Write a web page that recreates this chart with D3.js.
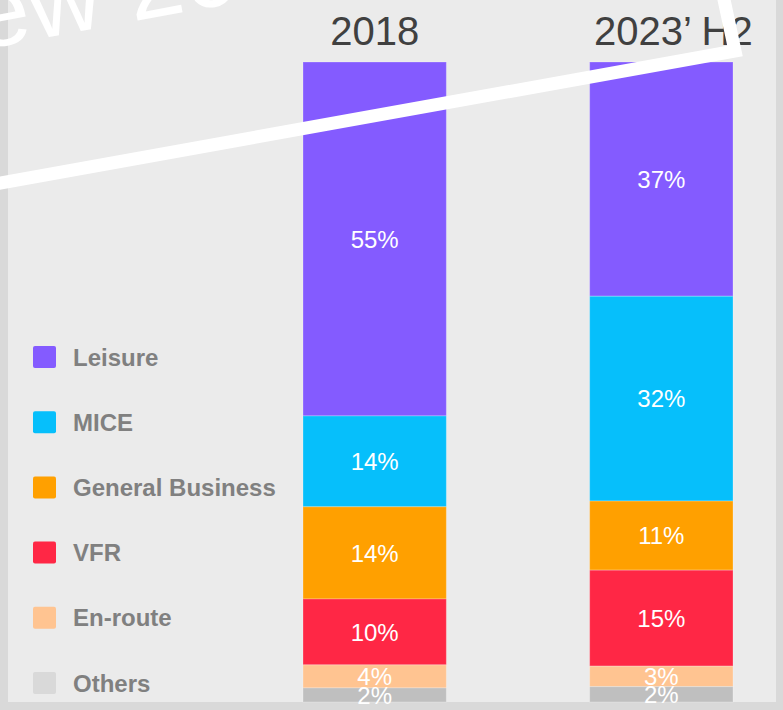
<!DOCTYPE html>
<html>
<head>
<meta charset="utf-8">
<script src="https://cdn.jsdelivr.net/npm/d3@7"></script>
<style>
  body { margin: 0; background: #d9d9d9; }
  svg { display: block; font-family: 'Liberation Sans', Arial, sans-serif; }
</style>
</head>
<body>
<div id="chart"></div>
<script>
// trip purpose share, percent of each period
var periods = ['2018', '2023\u2019 H2']
var segments = ['Leisure', 'MICE', 'General Business', 'VFR', 'En-route', 'Others']
var share2018 = [55.3, 14.2, 14.4, 10.3, 3.6, 2.2]
var share2023 = [36.6, 32.0, 10.8, 15.0, 3.2, 2.4]
var segmentColors = ['#845bff', '#06bffb', '#ffa000', '#ff2745', '#ffc491', '#bfbfbf']
var legendColors = ['#845bff', '#06bffb', '#ffa000', '#ff2745', '#ffc491', '#d9d9d9']

var width = 783
var height = 710

var fmtPct = function(v) { return d3.format('.0f')(v) + '%' }

function go () {
  var svg = d3.select('#chart').append('svg').attr('width', width).attr('height', height)

  // frame
  svg.append('rect').attr('width', width).attr('height', height).attr('fill', '#d9d9d9')
  svg.append('rect').attr('x', 8).attr('y', 0).attr('width', 768).attr('height', 702).attr('fill', '#ebebeb')

  var rows = periods.map(function(p, i) {
    var vals = i == 0 ? share2018 : share2023
    var row = { period: p }
    segments.forEach(function(s, j) { row[s] = vals[j] })
    return row
  })

  var x = d3.scaleBand().domain(periods).range([303, 733]).paddingInner(0.5).paddingOuter(0)
  // first segment sits on top
  var y = d3.scaleLinear().domain([0, 100]).range([62, 702])
  var color = d3.scaleOrdinal().domain(segments).range(segmentColors)

  var series = d3.stack().keys(segments)(rows)

  var layers = svg.append('g').selectAll('g')
    .data(series)
    .enter()
    .append('g')
    .attr('fill', function(d) { return color(d.key) })

  layers.selectAll('rect')
    .data(function(d) { return d })
    .enter()
    .append('rect')
    .attr('x', function(d) { return x(d.data.period) })
    .attr('width', x.bandwidth())
    .attr('y', function(d) { return y(d[0]) })
    .attr('height', function(d) { return y(d[1]) - y(d[0]) })
    .attr('stroke', 'rgba(255,255,255,0.25)')
    .attr('stroke-width', 1)

  layers.selectAll('text')
    .data(function(d) { return d })
    .enter()
    .append('text')
    .attr('x', function(d) { return x(d.data.period) + x.bandwidth() / 2 })
    .attr('y', function(d) { return (y(d[0]) + y(d[1])) / 2 })
    .attr('dy', '0.36em')
    .attr('text-anchor', 'middle')
    .attr('fill', '#fff')
    .style('font-size', '24px')
    .text(function(d) { return fmtPct(d[1] - d[0]) })

  // period titles
  svg.append('g').selectAll('text')
    .data(periods)
    .enter()
    .append('text')
    .attr('x', function(d) { return x(d) + x.bandwidth() / 2 })
    .attr('dx', function(d, i) { return i == 1 ? 12 : 0 })
    .attr('y', 45)
    .attr('text-anchor', 'middle')
    .attr('fill', '#404040')
    .style('font-size', '40px')
    .text(function(d) { return d })

  // legend
  var legendY = d3.scalePoint().domain(segments).range([357, 683])
  var legend = svg.append('g').selectAll('g')
    .data(segments)
    .enter()
    .append('g')
    .attr('transform', function(d) { return 'translate(0,' + legendY(d) + ')' })

  legend.append('rect')
    .attr('x', 33).attr('y', -11)
    .attr('width', 23).attr('height', 22)
    .attr('rx', 2)
    .attr('fill', function(d, i) { return legendColors[i] })

  legend.append('text')
    .attr('x', 73)
    .attr('dy', '0.36em')
    .attr('fill', '#808080')
    .style('font-size', '24px')
    .style('font-weight', 'bold')
    .text(function(d) { return d })

  // white stroke and watermark drawn on top
  svg.append('path')
    .attr('d', d3.line()([[-5, 184], [735, 51], [723, -5]]))
    .attr('fill', 'none')
    .attr('stroke', '#fff')
    .attr('stroke-width', 13)

  svg.append('text')
    .attr('transform', 'translate(-20,50) rotate(-10.6)')
    .attr('x', -228)
    .attr('fill', '#fff')
    .style('font-size', '100px')
    .text('Preview 2023')
}

document.addEventListener('DOMContentLoaded', go)
</script>
</body>
</html>
